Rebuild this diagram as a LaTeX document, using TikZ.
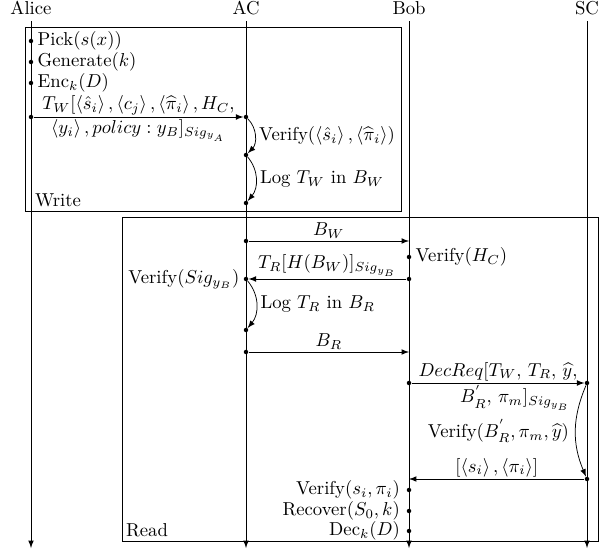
\documentclass[tikz,border=0pt]{standalone}
\usetikzlibrary{arrows.meta, arrows, positioning}

\begin{document}
\begin{tikzpicture}[
        x=0.535pt, y=-0.535pt, >=latex,
        dot/.style={circle, fill, inner sep=0pt, minimum size=2.4pt},
        act/.style={inner sep=2pt},
        lbl/.style={inner sep=1pt},
        life/.style={->},
        msg/.style={->},
        loopback/.style={->},
        phase/.style={draw}
    ]
        \useasboundingbox (0,0) rectangle (610,554);

        % --- Participants and lifelines ---
        \node (alice) at (31,8) {Alice};
        \node (ac) at (246,8) {AC};
        \node (bob) at (409,8) {Bob};
        \node (sc) at (587,8) {SC};
        \coordinate (aliceEnd) at (31,548);
        \coordinate (acEnd) at (246,548);
        \coordinate (bobEnd) at (409,548);
        \coordinate (scEnd) at (587,548);
        \draw[life] (alice) -- (aliceEnd);
        \draw[life] (ac) -- (acEnd);
        \draw[life] (bob) -- (bobEnd);
        \draw[life] (sc) -- (scEnd);

        % --- Phase frames ---
        \draw[phase] (25,27) rectangle (401,211);
        \node[anchor=south west, act] (write) at (31,211) {Write};
        \draw[phase] (122,217) rectangle (598,541);
        \node[anchor=south west, act] (read) at (122,541) {Read};

        % --- WRITE ---
        \node[dot] (a1) at (31,41) {};
        \node[act, right=0pt of a1] (pick) {Pick$(s(x))$};
        \node[dot] (a2) at (31,62) {};
        \node[act, right=0pt of a2] (gen) {Generate$(k)$};
        \node[dot] (a3) at (31,83) {};
        \node[act, right=0pt of a3] (enc) {Enc$_k(D)$};
        \node[dot] (a4) at (31,117) {};
        \node[dot] (c1) at (246,117) {};
        \draw[msg] (a4) -- node[lbl, above] {$T_W[\left\langle \hat{s}_i\right\rangle, \left\langle c_j\right\rangle, \left\langle \widehat{\pi}_i\right\rangle, H_C,$}
            node[lbl, below] {$\left\langle y_i\right\rangle, policy: y_B]_{Sig_{y_A}}$} (c1);
        \node[dot] (c2) at (246,155) {};
        \node[dot] (c3) at (246,203) {};
        \draw[loopback] (c1) to[bend left=45] node[act, right] {Verify$(\left\langle \hat{s}_i\right\rangle, \left\langle \widehat{\pi}_i\right\rangle)$} (c2);
        \draw[loopback] (c2) to[bend left=40] node[act, right] {Log $T_W$ in $B_W$} (c3);

        % --- READ ---
        \node[dot] (c4) at (246,241) {};
        \coordinate (b1) at (409,241);
        \draw[msg] (c4) -- node[lbl, above] {$B_W$} (b1);
        \node[dot] (b2) at (409,257) {};
        \node[act, right=0pt of b2] (verhc) {Verify$(H_C)$};
        \node[dot] (b3) at (409,279) {};
        \node[dot] (c5) at (246,279) {};
        \draw[msg] (b3) -- node[lbl, above] {$T_R[H(B_W)]_{Sig_{y_B}}$} (c5);
        \node[act, left=0pt of c5] (versig) {Verify$(Sig_{y_B})$};
        \node[dot] (c6) at (246,330) {};
        \draw[loopback] (c5) to[bend left=40] node[act, right] {Log $T_R$ in $B_R$} (c6);
        \node[dot] (c7) at (246,352) {};
        \coordinate (b4) at (409,352);
        \draw[msg] (c7) -- node[lbl, above] {$B_R$} (b4);

        % Decryption request to SC
        \node[dot] (b5) at (409,383) {};
        \node[dot] (s1) at (587,383) {};
        \draw[msg] (b5) -- node[lbl, above] {$DecReq[T_W,\, T_R,\, \widehat{y},$}
            node[lbl, below, pos=0.6] {$B^{'}_R,\, \pi_m]_{Sig_{y_B}}$} (s1);
        \node[dot] (s2) at (587,479) {};
        \draw[loopback] (s1) to[bend right=23] node[left] {Verify$(B^{'}_R, \pi_m, \widehat{y})$} (s2);
        \coordinate (b6) at (409,479);
        \draw[msg] (s2) -- node[lbl, above] {$[\left\langle s_i\right\rangle, \left\langle \pi_i\right\rangle]$} (b6);

        % Bob finishes locally
        \node[dot] (b7) at (409,490) {};
        \node[left=0pt of b7] (versi) {Verify$(s_i, \pi_i)$};
        \node[dot] (b8) at (409,511) {};
        \node[left=0pt of b8] (recover) {Recover$(S_0, k)$};
        \node[dot] (b9) at (409,531) {};
        \node[left=0pt of b9] (dec) {Dec$_k(D)$};
    \end{tikzpicture}
\end{document}
